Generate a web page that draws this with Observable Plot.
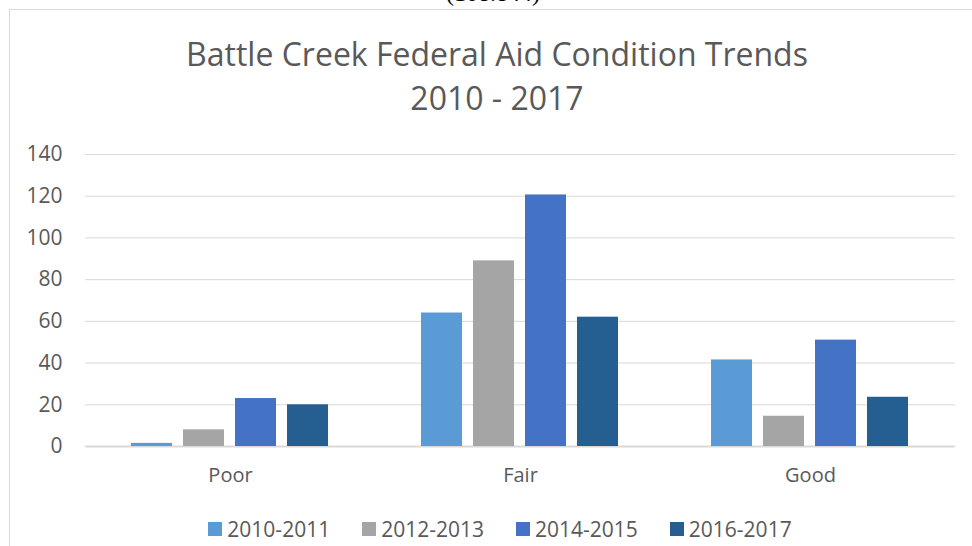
<!DOCTYPE html>
<html>
<head>
<meta charset="utf-8">
<script src="https://cdn.jsdelivr.net/npm/d3@7"></script>
<script src="https://cdn.jsdelivr.net/npm/@observablehq/plot@0.6"></script>
<style>
  html, body { margin: 0; padding: 0; background: #fff; }
  #wrap { position: relative; width: 972px; height: 546px; overflow: hidden; font-family: "Open Sans", sans-serif; color: #595959; }
  #cut { position: absolute; top: -20px; left: 0; width: 986px; text-align: center; font-family: "Liberation Serif", serif; font-size: 24px; color: #000; line-height: 26px; }
  #frame { position: absolute; left: 9px; top: 9px; width: 980px; height: 560px; border: 1px solid #D9D9D9; box-sizing: border-box; }
  #title { position: absolute; left: 0; top: 32px; width: 994px; text-align: center; font-size: 32px; line-height: 44px; color: #595959; }
  #chart { position: absolute; left: 0; top: 120px; }
  #legend { position: absolute; left: 0; top: 514px; width: 1000px; display: flex; justify-content: center; gap: 32px; font-size: 21px; line-height: 30px; }
  .item { display: flex; align-items: center; gap: 5px; }
  .sw { width: 14px; height: 14px; display: inline-block; }
</style>
</head>
<body>
<div id="wrap">
  <div id="cut">(108.844)</div>
  <div id="frame"></div>
  <div id="title">Battle Creek Federal Aid Condition Trends<br>2010 - 2017</div>
  <div id="chart"></div>
  <div id="legend"></div>
</div>
<script>
const categories = ["Poor", "Fair", "Good"];
const seriesNames = ["2010-2011", "2012-2013", "2014-2015", "2016-2017"];
const colors = ["#5B9BD5", "#A5A5A5", "#4472C4", "#255E91"];
const v2010_2011 = [1.5, 64, 41.5];
const v2012_2013 = [8, 89, 14.5];
const v2014_2015 = [23, 120.6, 51];
const v2016_2017 = [20, 62, 23.6];
const yTicks = [0, 20, 40, 60, 80, 100, 120, 140];

const seriesValues = [v2010_2011, v2012_2013, v2014_2015, v2016_2017];
const data = [];
categories.forEach((c, i) => {
  seriesNames.forEach((s, j) => {
    data.push({category: c, series: s, value: seriesValues[j][i]});
  });
});

const chart = Plot.plot({
  width: 972,
  height: 380,
  marginLeft: 85,
  marginRight: 17,
  marginTop: 34,
  marginBottom: 54,
  style: {fontFamily: "'Open Sans', sans-serif", color: "#595959", background: "transparent"},
  fx: {domain: categories, padding: 0, label: null},
  x: {domain: seriesNames, paddingInner: 0.21, paddingOuter: 0.867, axis: null},
  y: {domain: [0, 140], label: null},
  color: {domain: seriesNames, range: colors},
  marks: [
    Plot.gridY(yTicks, {stroke: "#D9D9D9", strokeOpacity: 1, strokeWidth: 1}),
    Plot.ruleY([0], {stroke: "#D9D9D9", strokeWidth: 2}),
    Plot.barY(data, {fx: "category", x: "series", y: "value", fill: "series"}),
    Plot.axisY(yTicks, {tickSize: 0, tickPadding: 23, fontSize: 21, fill: "#595959", label: null}),
    Plot.axisFx({anchor: "bottom", tickSize: 0, tickPadding: 21, fontSize: 20, fill: "#595959", label: null})
  ]
});
document.getElementById("chart").appendChild(chart);

const legend = document.getElementById("legend");
seriesNames.forEach((s, j) => {
  const item = document.createElement("div");
  item.className = "item";
  const sw = document.createElement("span");
  sw.className = "sw";
  sw.style.background = colors[j];
  const t = document.createElement("span");
  t.textContent = s;
  item.appendChild(sw);
  item.appendChild(t);
  legend.appendChild(item);
});
</script>
</body>
</html>
